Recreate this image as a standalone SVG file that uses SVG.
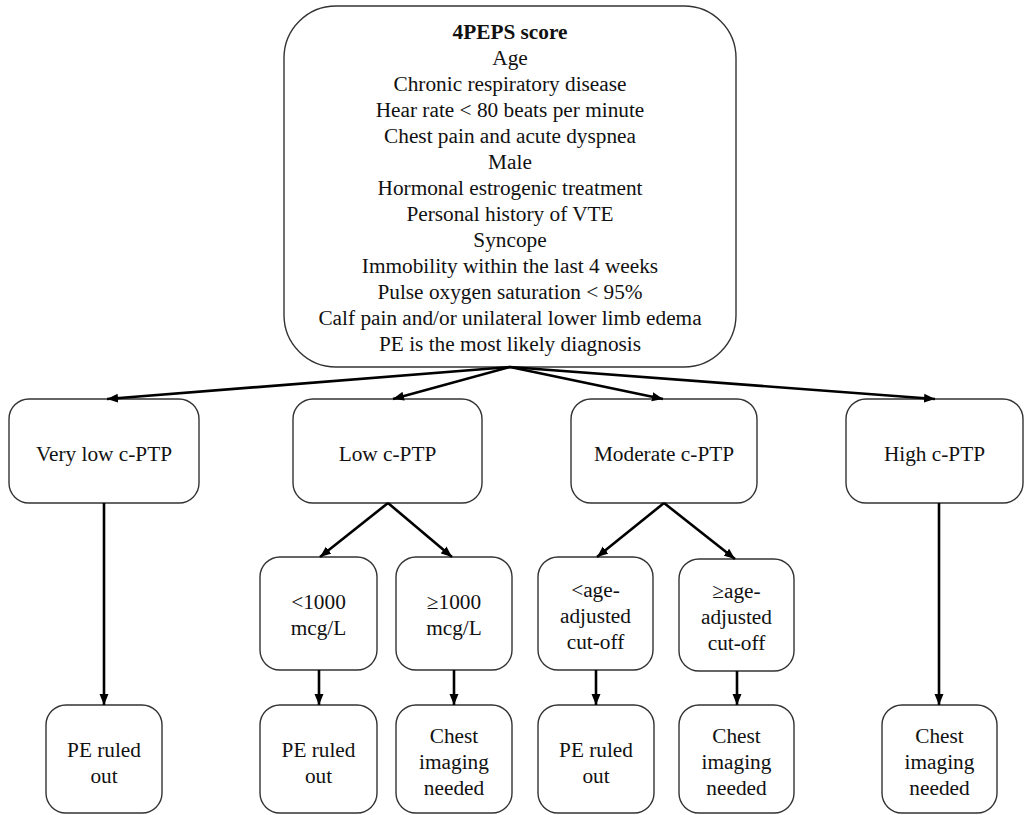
<svg xmlns="http://www.w3.org/2000/svg" width="1031" height="815" viewBox="0 0 1031 815" font-family="Liberation Serif, serif">
  <defs>
    <marker id="arrow" markerUnits="userSpaceOnUse" markerWidth="12" markerHeight="10" refX="11" refY="5" orient="auto">
      <path d="M0,0.5 L11,5 L0,9.5 Z" fill="#000"/>
    </marker>
  </defs>
  <style>
    .box { fill: #fff; stroke: #333; stroke-width: 1.4; }
    text { font-size: 21.3px; fill: #111; text-anchor: middle; }
    .title { font-weight: bold; }
    .edge { stroke: #000; stroke-width: 2.6; fill: none; marker-end: url(#arrow); }
  </style>
  <rect width="1031" height="815" fill="#fff"/>

  <!-- score criteria -->
  <g id="score" font-family="Liberation Serif">
    <rect class="box" x="284" y="6" width="452" height="361" rx="52" ry="52"/>
    <text class="title" x="510" y="39">4PEPS score</text>
    <text x="510" y="65">Age</text>
    <text x="510" y="91">Chronic respiratory disease</text>
    <text x="510" y="117">Hear rate &lt; 80 beats per minute</text>
    <text x="510" y="143">Chest pain and acute dyspnea</text>
    <text x="510" y="169">Male</text>
    <text x="510" y="195">Hormonal estrogenic treatment</text>
    <text x="510" y="221">Personal history of VTE</text>
    <text x="510" y="247">Syncope</text>
    <text x="510" y="273">Immobility within the last 4 weeks</text>
    <text x="510" y="299">Pulse oxygen saturation &lt; 95%</text>
    <text x="510" y="325">Calf pain and/or unilateral lower limb edema</text>
    <text x="510" y="351">PE is the most likely diagnosis</text>
  </g>

  <!-- probability categories -->
  <g id="very-low">
    <rect class="box" x="9" y="399" width="190" height="104" rx="20" ry="20"/>
    <text x="104" y="461">Very low c-PTP</text>
  </g>
  <g id="low">
    <rect class="box" x="293" y="399" width="189" height="104" rx="20" ry="20"/>
    <text x="387.5" y="461">Low c-PTP</text>
  </g>
  <g id="moderate">
    <rect class="box" x="571" y="399" width="186" height="104" rx="20" ry="20"/>
    <text x="664" y="461">Moderate c-PTP</text>
  </g>
  <g id="high">
    <rect class="box" x="846" y="399" width="177" height="104" rx="20" ry="20"/>
    <text x="934.5" y="461">High c-PTP</text>
  </g>

  <!-- D-dimer thresholds -->
  <g id="low-under">
    <rect class="box" x="260" y="557" width="117" height="113" rx="20" ry="20"/>
    <text x="318.5" y="609">&lt;1000</text>
    <text x="318.5" y="635">mcg/L</text>
  </g>
  <g id="low-over">
    <rect class="box" x="396" y="557" width="116" height="113" rx="20" ry="20"/>
    <text x="454" y="609">≥1000</text>
    <text x="454" y="635">mcg/L</text>
  </g>
  <g id="mod-under">
    <rect class="box" x="538" y="557" width="115" height="113" rx="20" ry="20"/>
    <text x="595.5" y="597">&lt;age-</text>
    <text x="595.5" y="623">adjusted</text>
    <text x="595.5" y="649">cut-off</text>
  </g>
  <g id="mod-over">
    <rect class="box" x="679" y="559" width="115" height="112" rx="20" ry="20"/>
    <text x="736.5" y="598">≥age-</text>
    <text x="736.5" y="624">adjusted</text>
    <text x="736.5" y="650">cut-off</text>
  </g>

  <!-- outcomes -->
  <g id="out-1">
    <rect class="box" x="46" y="705" width="116" height="108" rx="20" ry="20"/>
    <text x="104" y="757">PE ruled</text>
    <text x="104" y="783">out</text>
  </g>
  <g id="out-2">
    <rect class="box" x="260" y="705" width="117" height="108" rx="20" ry="20"/>
    <text x="318.5" y="757">PE ruled</text>
    <text x="318.5" y="783">out</text>
  </g>
  <g id="out-3">
    <rect class="box" x="396" y="705" width="116" height="108" rx="20" ry="20"/>
    <text x="454" y="743">Chest</text>
    <text x="454" y="769">imaging</text>
    <text x="454" y="795">needed</text>
  </g>
  <g id="out-4">
    <rect class="box" x="538" y="705" width="116" height="108" rx="20" ry="20"/>
    <text x="596" y="757">PE ruled</text>
    <text x="596" y="783">out</text>
  </g>
  <g id="out-5">
    <rect class="box" x="679" y="705" width="115" height="108" rx="20" ry="20"/>
    <text x="736.5" y="743">Chest</text>
    <text x="736.5" y="769">imaging</text>
    <text x="736.5" y="795">needed</text>
  </g>
  <g id="out-6">
    <rect class="box" x="882" y="705" width="115" height="108" rx="20" ry="20"/>
    <text x="939.5" y="743">Chest</text>
    <text x="939.5" y="769">imaging</text>
    <text x="939.5" y="795">needed</text>
  </g>

  <!-- connectors -->
  <g id="connectors">
    <line class="edge" x1="510" y1="367" x2="107" y2="399"/>
    <line class="edge" x1="510" y1="367" x2="393" y2="399"/>
    <line class="edge" x1="510" y1="367" x2="663" y2="399"/>
    <line class="edge" x1="510" y1="367" x2="935" y2="399"/>
    <line class="edge" x1="104" y1="503" x2="104" y2="705"/>
    <line class="edge" x1="939" y1="503" x2="939" y2="705"/>
    <line class="edge" x1="388" y1="503" x2="320" y2="557"/>
    <line class="edge" x1="388" y1="503" x2="452" y2="557"/>
    <line class="edge" x1="664" y1="503" x2="597" y2="557"/>
    <line class="edge" x1="664" y1="503" x2="735" y2="559"/>
    <line class="edge" x1="319" y1="670" x2="319" y2="705"/>
    <line class="edge" x1="454" y1="670" x2="454" y2="705"/>
    <line class="edge" x1="596" y1="670" x2="596" y2="705"/>
    <line class="edge" x1="737" y1="671" x2="737" y2="705"/>
  </g>
</svg>
